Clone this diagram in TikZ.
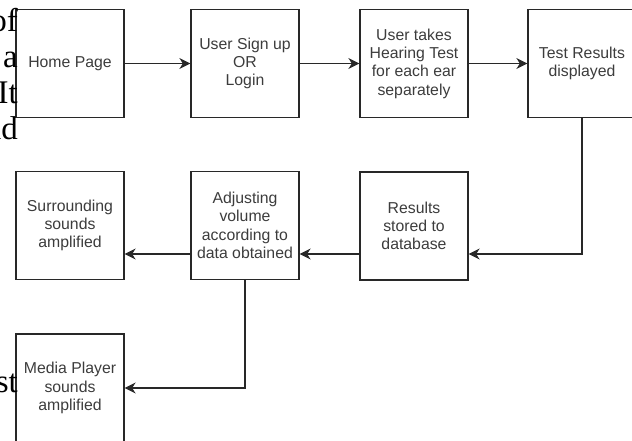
\documentclass[tikz,border=0pt]{standalone}
\usepackage{fontspec}
\setmainfont{Liberation Sans}
\newfontfamily\straysf{Liberation Serif}
\usetikzlibrary{arrows.meta}
\definecolor{linecol}{RGB}{40,40,40}
\definecolor{txtcol}{RGB}{60,60,60}
\tikzset{
  box/.style={draw=linecol, line width=1.3pt, rectangle, minimum width=108pt, minimum height=108pt,
    inner sep=0pt, align=center, text=txtcol, font=\fontsize{15.8pt}{18.3pt}\selectfont},
  arr/.style={draw=linecol, line width=1.3pt, -{Stealth[length=11pt,width=11pt,inset=3.5pt]}},
  stray/.style={anchor=base east, inner sep=0pt, font=\straysf\fontsize{33pt}{36pt}\selectfont, text=black}
}
\begin{document}
\begin{tikzpicture}[x=1pt,y=-1pt]
\useasboundingbox (0,0) rectangle (632,441);
% boxes
\node[box] (home) at (70,63.5) {Home Page};
\node[box] (signup) at (245,63.5) {User Sign up\\OR\\Login};
\node[box] (hear) at (414,63.5) {User takes\\Hearing Test\\for each ear\\separately};
\node[box] (test) at (582,63.5) {Test Results\\displayed};
\node[box] (surround) at (70,225.5) {Surrounding\\sounds\\amplified};
\node[box] (adjust) at (245,225.5) {Adjusting\\volume\\according to\\data obtained};
\node[box] (results) at (414,226) {Results\\stored to\\database};
\node[box] (media) at (70,388) {Media Player\\sounds\\amplified};
\coordinate (row2) at (0,254);
% connectors
\draw[arr] (home.east) -- (signup.west);
\draw[arr] (signup.east) -- (hear.west);
\draw[arr] (hear.east) -- (test.west);
\draw[arr] (test.south) |- (results.east |- row2);
\draw[arr] (results.west |- row2) -- (adjust.east |- row2);
\draw[arr] (adjust.west |- row2) -- (surround.east |- row2);
\draw[arr] (adjust.south) |- (media.east);
% stray text fragments at the left edge
\node[stray] (s1) at (18,32) {of};
\node[stray] (s2) at (18,68) {a};
\node[stray] (s3) at (18,104) {It};
\node[stray] (s4) at (18,140) {nd};
\node[stray] (s5) at (18,392) {st};
\end{tikzpicture}
\end{document}
